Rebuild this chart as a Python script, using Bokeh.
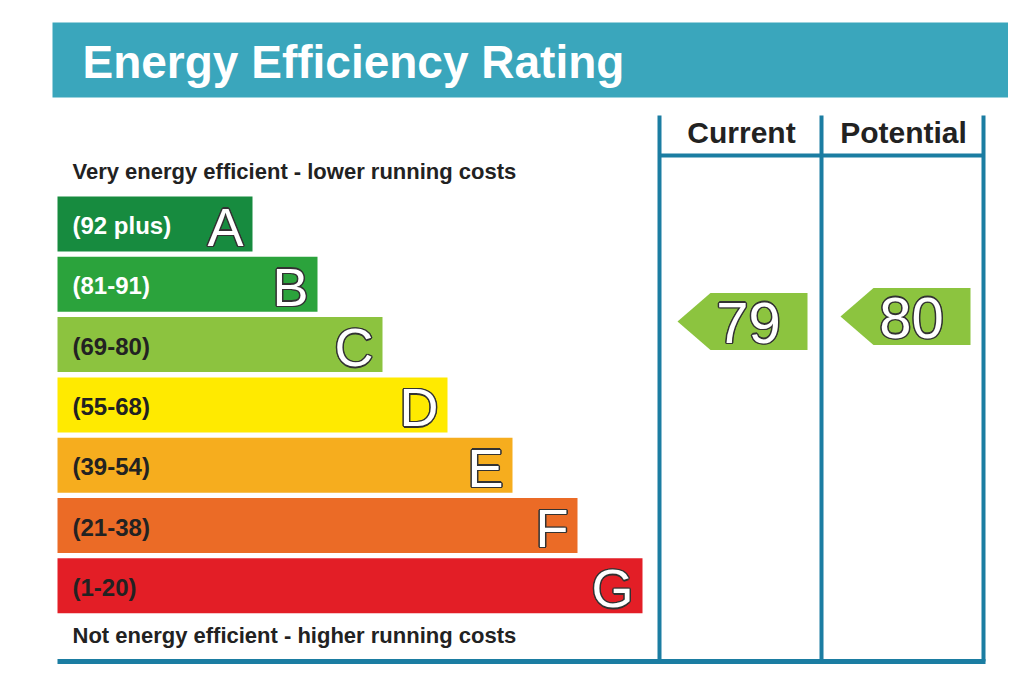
from bokeh.plotting import figure
from bokeh.models import Range1d
from bokeh.core.properties import value
from bokeh.embed import file_html
from bokeh.resources import INLINE

# bands of the rating scale
bands = ["A", "B", "C", "D", "E", "F", "G"]
ranges = ["(92 plus)", "(81-91)", "(69-80)", "(55-68)", "(39-54)", "(21-38)", "(1-20)"]
band_colors = ["#178b3f", "#2ba33c", "#8cc33f", "#ffea00", "#f6ad1e", "#eb6b26", "#e31e26"]
range_text_colors = ["white", "white", "#222222", "#222222", "#222222", "#222222", "#222222"]

current = 79
potential = 80
arrow_color = "#8cc43f"

line_col = "#1b7da2"
banner_col = "#3aa6bc"
font = value("Liberation Sans")

# figure uses screen pixel coordinates (y downwards)
p = figure(width=1008, height=677, x_range=Range1d(0, 1008), y_range=Range1d(677, 0),
           output_backend="svg", toolbar_location=None, min_border=0)
p.axis.visible = False
p.grid.visible = False
p.outline_line_color = None
p.background_fill_color = "white"


def outlined(x, y, txt, size, align="center"):
    offs = [(-1.4, 0), (1.4, 0), (0, -1.4), (0, 1.4), (-1, -1), (1, 1), (-1, 1), (1, -1)]
    for dx, dy in offs:
        p.text(x=[x], y=[y], text=[txt], x_offset=dx, y_offset=dy, text_font=font,
               text_font_size=size, text_color="#333333", text_align=align, text_baseline="middle")
    p.text(x=[x], y=[y], text=[txt], text_font=font, text_font_size=size,
           text_color="white", text_align=align, text_baseline="middle")


# title banner
p.quad(left=[52], right=[1008], top=[22], bottom=[97], fill_color=banner_col, line_color=None)
p.text(x=[82], y=[61], text=["Energy Efficiency Rating"], text_font=font, text_font_style="bold",
       text_font_size="46px", text_color="white", text_baseline="middle")

# rating bars
x0 = 57
step = 65
top0 = 196
row = 60.3
for i, b in enumerate(bands):
    top = top0 + i * row
    right = x0 + step * (i + 3)
    p.quad(left=[x0], right=[right], top=[top], bottom=[top + 55], fill_color=band_colors[i], line_color=None)
    p.text(x=[72], y=[top + 29], text=[ranges[i]], text_font=font, text_font_style="bold",
           text_font_size="24px", text_color=range_text_colors[i], text_baseline="middle")
    outlined(right - 9, top + 30, b, "54px", align="right")

p.text(x=[72], y=[171], text=["Very energy efficient - lower running costs"], text_font=font,
       text_font_style="bold", text_font_size="22px", text_color="#222222", text_baseline="middle")
p.text(x=[72], y=[635], text=["Not energy efficient - higher running costs"], text_font=font,
       text_font_style="bold", text_font_size="22px", text_color="#222222", text_baseline="middle")

# column frame
p.segment(x0=[659, 821, 983], y0=[115, 115, 115], x1=[659, 821, 983], y1=[661, 661, 661],
          line_color=line_col, line_width=4)
p.segment(x0=[659], y0=[155], x1=[983], y1=[155], line_color=line_col, line_width=4)
p.segment(x0=[57], y0=[661], x1=[985], y1=[661], line_color=line_col, line_width=5)

p.text(x=[741], y=[132], text=["Current"], text_font=font, text_font_style="bold",
       text_font_size="30px", text_color="#222222", text_align="center", text_baseline="middle")
p.text(x=[903], y=[132], text=["Potential"], text_font=font, text_font_style="bold",
       text_font_size="30px", text_color="#222222", text_align="center", text_baseline="middle")


# arrows placed by rating value
def arrow(tip_x, val):
    yc = 316 + (80 - val) * 5
    xs = [tip_x, tip_x + 33, tip_x + 130, tip_x + 130, tip_x + 33]
    ys = [yc, yc - 28.5, yc - 28.5, yc + 28.5, yc + 28.5]
    p.patch(xs, ys, fill_color=arrow_color, line_color=None)
    outlined(tip_x + 71, yc + 1, str(val), "58px")


arrow(677, current)
arrow(840, potential)

open("out.html", "w").write(file_html(p, INLINE))
